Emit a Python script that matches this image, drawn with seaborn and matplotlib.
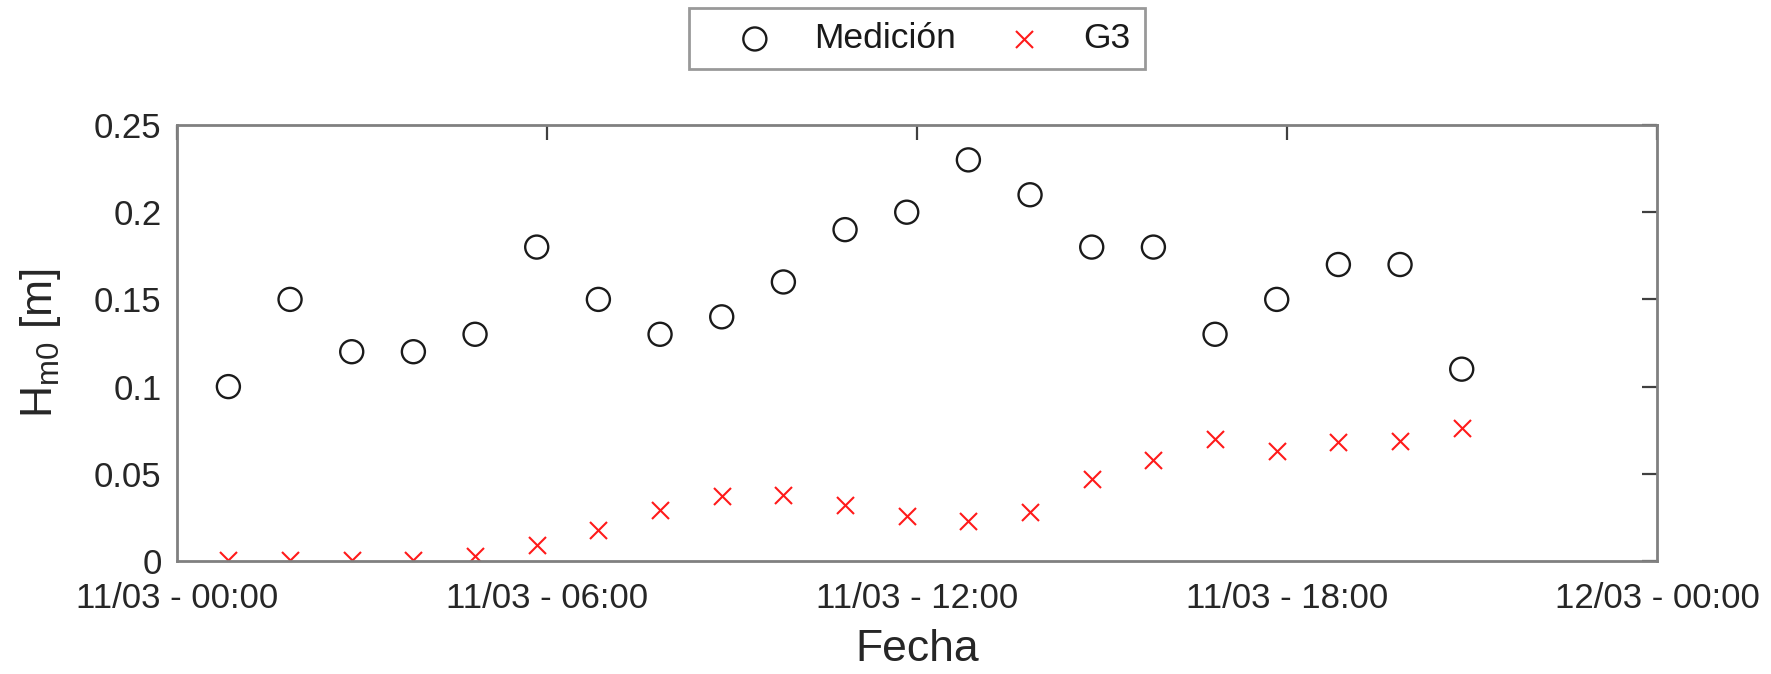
import pandas as pd
import matplotlib
matplotlib.use('Agg')
import matplotlib.pyplot as plt
import matplotlib.dates as mdates
from matplotlib.ticker import FuncFormatter
import seaborn as sns

horas = pd.date_range('2024-03-11 00:50', periods=21, freq='h')
medicion = [0.10, 0.15, 0.12, 0.12, 0.13, 0.18, 0.15, 0.13, 0.14, 0.16, 0.19,
            0.20, 0.23, 0.21, 0.18, 0.18, 0.13, 0.15, 0.17, 0.17, 0.11]
g3 = [0.0005, 0.0005, 0.0005, 0.0007, 0.003, 0.009, 0.018, 0.029, 0.037, 0.038, 0.032,
      0.026, 0.023, 0.028, 0.047, 0.058, 0.070, 0.063, 0.068, 0.069, 0.076]
yticks = [0, 0.05, 0.1, 0.15, 0.2, 0.25]

df = pd.DataFrame({'fecha': horas, 'medicion': medicion, 'g3': g3})

sns.set_style('white')
plt.rcParams['font.family'] = ['Liberation Sans', 'DejaVu Sans']
plt.rcParams['mathtext.fontset'] = 'custom'
plt.rcParams['mathtext.rm'] = 'Liberation Sans'
plt.rcParams['mathtext.it'] = 'Liberation Sans'

gris = '#262626'
fig = plt.figure(figsize=(17.71, 6.74), dpi=100)
ax = fig.add_axes([177 / 1771, 1 - 561 / 674, 1480 / 1771, 436 / 674])

sns.scatterplot(data=df, x='fecha', y='medicion', ax=ax, marker='o', s=275,
                facecolor='none', edgecolor='#1a1a1a', linewidth=1.7, label='Medición')
sns.scatterplot(data=df, x='fecha', y='g3', ax=ax, marker='x', s=150,
                color='#ff1a1a', linewidth=1.5, label='G3')

ax.set_xlim(pd.Timestamp('2024-03-11 00:00'), pd.Timestamp('2024-03-12 00:00'))
ax.set_ylim(0, 0.25)
ax.xaxis.set_major_locator(mdates.HourLocator(byhour=[0, 6, 12, 18]))
ax.xaxis.set_major_formatter(mdates.DateFormatter('%d/%m - %H:%M'))
ax.set_yticks(yticks)
ax.yaxis.set_major_formatter(FuncFormatter(lambda v, p: '%g' % v))

for s in ax.spines.values():
    s.set_color('#808080')
    s.set_linewidth(2)
ax.tick_params(direction='in', length=10.5, width=1.6, color='#404040',
               top=True, right=True, labelsize=25, labelcolor=gris)
ax.tick_params(axis='x', pad=15)
ax.tick_params(axis='y', pad=11)

ax.set_xlabel('Fecha', fontsize=32, color=gris)
ax.set_ylabel(r'H$_{\mathrm{m0}}$ [m]', fontsize=32, color=gris)
ax.xaxis.set_label_coords(0.5, -0.156)
ax.yaxis.set_label_coords(-0.077, 0.5)

ax.get_legend().remove()
h, l = ax.get_legend_handles_labels()
leg = fig.legend(h, l, loc='upper center', bbox_to_anchor=(917 / 1771, 0.988), ncol=2,
                 fontsize=25.5, frameon=True, fancybox=False, borderaxespad=0,
                 borderpad=0.4, handlelength=2.9, handletextpad=0.23, columnspacing=0.46)
leg.get_frame().set_edgecolor('#808080')
leg.get_frame().set_linewidth(2)
for t in leg.get_texts():
    t.set_color('#1a1a1a')

fig.savefig('out.png', dpi=100)
